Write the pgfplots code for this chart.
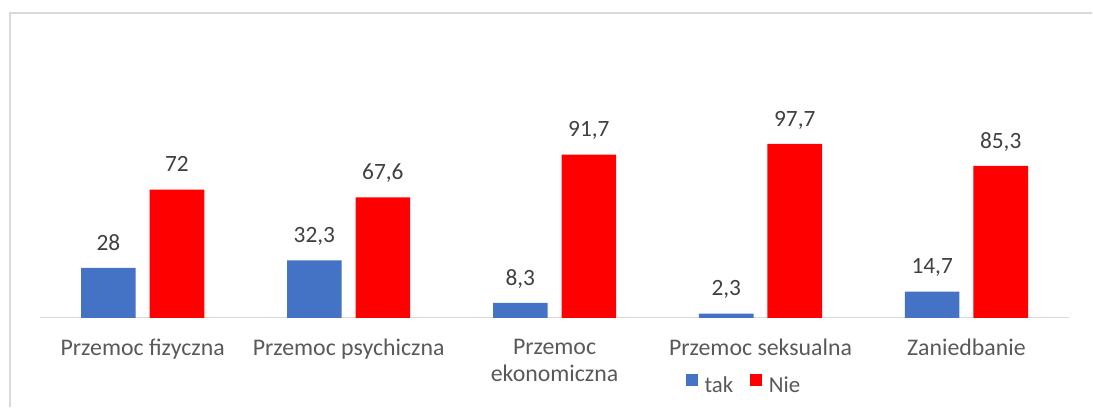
\documentclass[border=0pt]{standalone}
\usepackage{pgfplots}
\pgfplotsset{compat=1.18}
\usepackage{pgfplotstable}
\usepackage{fontspec}
\setmainfont{Carlito}
\definecolor{takblue}{HTML}{4472C4}
\definecolor{niered}{HTML}{FF0000}
\definecolor{labelgray}{HTML}{595959}
\definecolor{valgray}{HTML}{404040}
\definecolor{framegray}{HTML}{D9D9D9}

\pgfplotsset{squarelegend/.style={legend image code/.code={\fill[##1] (0pt,0pt) rectangle (12pt,12pt);}}}

\pgfplotstableread{
x tak nie
0 28   72
1 32.3 67.6
2 8.3  91.7
3 2.3  97.7
4 14.7 85.3
}\przemoc

\begin{document}
\begin{tikzpicture}
  \begin{axis}[
    scale only axis,
    width=1037pt, height=215pt,
    xmin=-0.5, xmax=4.5, ymin=0, ymax=120,
    ybar=14pt, bar width=55pt,
    axis y line=none, axis x line*=bottom,
    x axis line style={-, draw=framegray, line width=1.5pt},
    xtick=data, major tick length=0pt, ytick=\empty,
    xticklabels={Przemoc fizyczna, Przemoc psychiczna, {Przemoc\\ekonomiczna}, Przemoc seksualna, Zaniedbanie},
    xticklabel style={font=\fontsize{24}{27.5}\selectfont, text=labelgray, align=center, anchor=north, inner sep=0pt, yshift=-21pt},
    /pgf/number format/assume math mode=true,
    /pgf/number format/use comma,
    nodes near coords,
    nodes near coords style={font=\fontsize{23.5}{27.6}\selectfont, text=valgray, anchor=base, inner sep=0pt, yshift=18pt},
    legend columns=2,
    legend style={at={(0.683,-0.31)}, anchor=center, draw=none, fill=none,
      font=\fontsize{23}{27}\selectfont, text=labelgray,
      nodes={inner sep=0pt},
      /tikz/every odd column/.append style={column sep=7pt},
      /tikz/every even column/.append style={column sep=17pt}},
    clip=false,
  ]
    \addplot[fill=takblue, draw=none, squarelegend] table[x=x, y=tak]{\przemoc};
    \addplot[fill=niered, draw=none, squarelegend] table[x=x, y=nie]{\przemoc};
    \legend{tak, Nie}
  \end{axis}
  \pgfresetboundingbox
  \draw[framegray, line width=1.5pt] (-30pt,-90pt) -- (-30pt,307pt) -- (1060pt,307pt);
  \useasboundingbox (-40pt,-85pt) rectangle (1053pt,320pt);
\end{tikzpicture}
\end{document}
